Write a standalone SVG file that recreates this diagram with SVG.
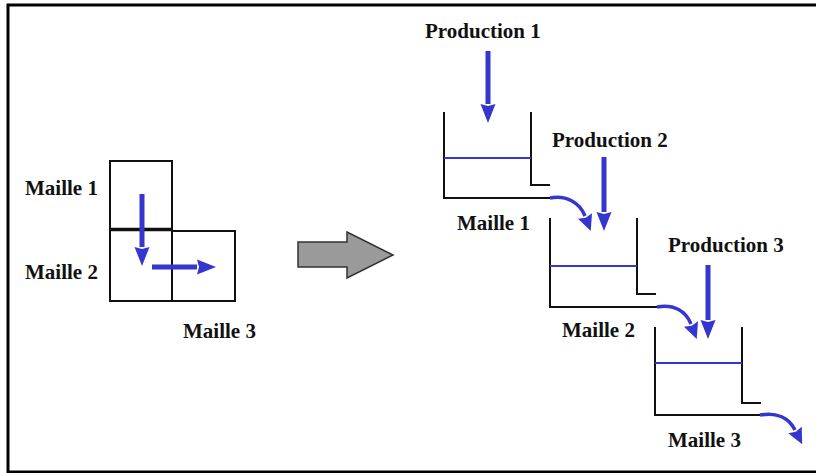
<svg xmlns="http://www.w3.org/2000/svg" width="816" height="473" viewBox="0 0 816 473">
  <style>
    text { font-family: "Liberation Serif", Tinos, "DejaVu Serif", serif; font-weight: bold; font-size: 21px; fill: #111; }
    .wall { fill: none; stroke: #111; stroke-width: 2; }
    .cell { fill: none; stroke: #111; stroke-width: 2; }
    .water { stroke: #3535d0; stroke-width: 2; }
    .flow { fill: none; stroke: #3535d0; stroke-width: 5; marker-end: url(#head); }
    .spill { fill: none; stroke: #3535d0; stroke-width: 3.5; marker-end: url(#head2); }
  </style>
  <defs>
    <marker id="head" markerUnits="userSpaceOnUse" viewBox="0 -8 19 16" refX="0" refY="0" markerWidth="19" markerHeight="16" orient="auto">
      <path d="M0,-7.5 L19,0 L0,7.5 L2,0 z" fill="#3535d0"/>
    </marker>
    <marker id="head2" markerUnits="userSpaceOnUse" viewBox="0 -8 16 16" refX="0" refY="0" markerWidth="16" markerHeight="16" orient="auto">
      <path d="M0,-7.5 L16,0 L0,7.5 L2,0 z" fill="#3535d0"/>
    </marker>
  </defs>

  <rect width="816" height="473" fill="#fff"/>
  <!-- frame (open on the right) -->
  <path d="M816,5 H8 V472 H816" fill="none" stroke="#000" stroke-width="3"/>

  <!-- grid of cells -->
  <g id="grid">
    <rect class="cell" x="110" y="161" width="62" height="68"/>
    <rect class="cell" x="110" y="229" width="62" height="72"/>
    <rect class="cell" x="172" y="231" width="63" height="70"/>
    <line x1="110" y1="229.5" x2="172" y2="229.5" stroke="#111" stroke-width="3.5"/>
    <line class="flow" x1="142" y1="194" x2="142" y2="247"/>
    <line class="flow" x1="152" y1="267" x2="197" y2="267"/>
    <text x="25" y="195">Maille 1</text>
    <text x="25" y="279">Maille 2</text>
    <text x="183" y="338">Maille 3</text>
  </g>

  <!-- transition arrow -->
  <g id="bigArrow">
    <polygon points="298,242 347,242 347,232 393,255 347,278 347,267 298,267" fill="#9a9a9a" stroke="#333" stroke-width="1.5"/>
  </g>

  <!-- reservoir 1 -->
  <g id="maille1">
    <path class="wall" d="M444,112 V198 H550"/>
    <path class="wall" d="M531,112 V185 H550"/>
    <line class="water" x1="444" y1="158" x2="531" y2="158"/>
    <text x="457" y="230">Maille 1</text>
  </g>
  <g id="production1">
    <text x="425" y="38">Production 1</text>
  </g>

  <!-- reservoir 2 -->
  <g id="maille2">
    <path class="wall" d="M550,218 V307 H657"/>
    <path class="wall" d="M637,218 V294 H656"/>
    <line class="water" x1="550" y1="266" x2="637" y2="266"/>
    <text x="562" y="337">Maille 2</text>
  </g>
  <g id="production2">
    <text x="552" y="147">Production 2</text>
  </g>

  <!-- reservoir 3 -->
  <g id="maille3">
    <path class="wall" d="M655,327 V415 H760"/>
    <path class="wall" d="M742,327 V403 H761"/>
    <line class="water" x1="655" y1="363" x2="742" y2="363"/>
    <text x="668" y="447">Maille 3</text>
  </g>
  <g id="production3">
    <text x="668" y="252">Production 3</text>
  </g>

  <!-- flows -->
  <g id="connectors">
    <line class="flow" x1="488" y1="51" x2="488" y2="104"/>
    <line class="flow" x1="604" y1="157" x2="604" y2="212"/>
    <line class="flow" x1="708" y1="265" x2="708" y2="320"/>
    <path class="spill" d="M550,198 C567,195 580,203 585,216"/>
    <path class="spill" d="M657,307 C674,304 686,311 691,324"/>
    <path class="spill" d="M760,415 C777,412 789,418 795,430"/>
  </g>
</svg>
